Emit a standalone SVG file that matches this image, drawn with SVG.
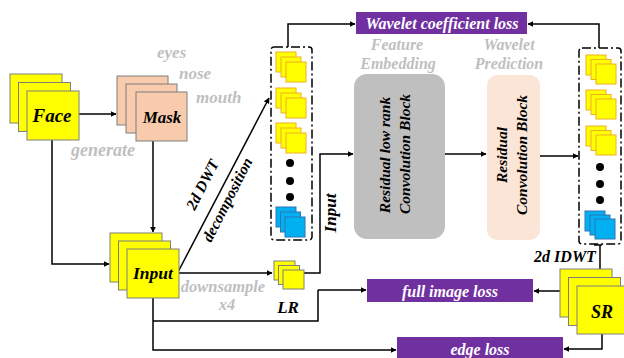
<svg xmlns="http://www.w3.org/2000/svg" width="624" height="358" viewBox="0 0 624 358">
<defs>
<marker id="ah" viewBox="0 0 10 10" refX="9" refY="5" markerWidth="6" markerHeight="6" markerUnits="userSpaceOnUse" orient="auto">
<path d="M0,0 L10,5 L0,10 z" fill="#000"/>
</marker>
</defs>
<style>
.t{font-family:"Liberation Serif","Times New Roman",serif;font-weight:bold;font-style:italic}
.blk{fill:#000}
.gry{fill:#BFBFBF}
.wht{fill:#fff}
.ylw{fill:#FFFF00;stroke:#7F7F7F;stroke-width:1}
.pch{fill:#F8CBAD;stroke:#7F7F7F;stroke-width:1}
.sy{fill:#FFFF00;stroke:#F0B020;stroke-width:1}
.sb{fill:#00B0F0;stroke:#2E75B6;stroke-width:1}
.ln{fill:none;stroke:#000;stroke-width:1.5}
.ar{fill:none;stroke:#000;stroke-width:1.5;marker-end:url(#ah)}
.dd{fill:none;stroke:#000;stroke-width:1.5;stroke-dasharray:9 3 2 3}
.pur{fill:#7030A0}
</style>

<g id="connectors">
<path class="ar" d="M78,114 H116"/>
<path class="ar" d="M52,140 V264 H109"/>
<path class="ar" d="M153,141 V232"/>
<path class="ar" d="M178,273 H272"/>
<path class="ar" d="M178,272 L269,98"/>
<path class="ar" d="M304,273 H320 V154 H353"/>
<path class="ar" d="M153,298 V350 H396"/>
<path class="ln" d="M153,321 H318 V290"/>
<path class="ar" d="M318,290 H366"/>
<path class="ar" d="M288,47 V24 H355"/>
<path class="ar" d="M599,48 V24 H528"/>
<path class="ar" d="M445,154 H486"/>
<path class="ar" d="M540,156 H578"/>
<path class="ln" d="M594,245 H602"/>
<path class="ar" d="M600,245 V284"/>
<path class="ar" d="M560,291 H534"/>
<path class="ar" d="M602,334 V349 H564"/>
</g>

<g id="face">
<rect class="ylw" x="10" y="74" width="52" height="49"/>
<rect class="ylw" x="18.5" y="82.5" width="52" height="49"/>
<rect class="ylw" x="27" y="91" width="52" height="49"/>
<text class="t blk" x="52" y="122" font-size="19" text-anchor="middle">Face</text>
</g>

<g id="mask">
<rect class="pch" x="117" y="76" width="51" height="49"/>
<rect class="pch" x="126" y="84" width="51" height="49"/>
<rect class="pch" x="136" y="92" width="51" height="49"/>
<text class="t blk" x="162" y="123" font-size="17" text-anchor="middle">Mask</text>
</g>

<g id="face-labels">
<text class="t gry" x="157" y="58" font-size="17">eyes</text>
<text class="t gry" x="179" y="79" font-size="17">nose</text>
<text class="t gry" x="196" y="103" font-size="17">mouth</text>
<text class="t gry" x="71" y="156" font-size="18">generate</text>
</g>

<g id="input">
<rect class="ylw" x="110" y="233" width="52" height="49"/>
<rect class="ylw" x="118.5" y="241" width="52" height="49"/>
<rect class="ylw" x="127" y="249" width="52" height="49"/>
<text class="t blk" x="153" y="279" font-size="17.5" text-anchor="middle">Input</text>
</g>

<g id="dwt-label">
<text class="t blk" font-size="15.5" text-anchor="middle" transform="translate(207,187) rotate(-63)">2d DWT</text>
<text class="t blk" font-size="15.5" text-anchor="middle" transform="translate(232,202) rotate(-63)">decomposition</text>
</g>

<g id="downsample-label">
<text class="t gry" x="223" y="292" font-size="16.5" text-anchor="middle">downsample</text>
<text class="t gry" x="227" y="310" font-size="16.5" text-anchor="middle">x4</text>
</g>

<g id="lr">
<rect class="ylw" x="274" y="261" width="21" height="19"/>
<rect class="ylw" x="278.5" y="265.5" width="21" height="19"/>
<rect class="ylw" x="283" y="270" width="21" height="19"/>
<text class="t blk" x="288" y="313" font-size="17" text-anchor="middle">LR</text>
</g>

<g id="input-label">
<text class="t blk" font-size="17" text-anchor="middle" transform="translate(336,213) rotate(-90)">Input</text>
</g>

<g id="wavelet-in">
<rect class="dd" x="271" y="47" width="41" height="193" rx="3"/>
<rect class="sy" x="276" y="52" width="20" height="20"/>
<rect class="sy" x="281" y="57" width="20" height="20"/>
<rect class="sy" x="286" y="62" width="20" height="20"/>
<rect class="sy" x="276" y="88" width="20" height="20"/>
<rect class="sy" x="281" y="93" width="20" height="20"/>
<rect class="sy" x="286" y="98" width="20" height="20"/>
<rect class="sy" x="276" y="123" width="20" height="20"/>
<rect class="sy" x="281" y="128" width="20" height="20"/>
<rect class="sy" x="286" y="133" width="20" height="20"/>
<circle cx="290" cy="163" r="4"/>
<circle cx="290" cy="181" r="4"/>
<circle cx="290" cy="197" r="4"/>
<rect class="sb" x="276" y="207" width="20" height="20"/>
<rect class="sb" x="280.5" y="212" width="20" height="20"/>
<rect class="sb" x="285" y="217" width="20" height="20"/>
</g>

<g id="feature-label">
<text class="t gry" x="397" y="50" font-size="16" text-anchor="middle">Feature</text>
<text class="t gry" x="398" y="69" font-size="16" text-anchor="middle">Embedding</text>
</g>

<g id="lowrank-block">
<rect x="354" y="74" width="91" height="165" rx="13" fill="#BFBFBF"/>
<text class="t blk" font-size="15.5" text-anchor="middle" transform="translate(390,155) rotate(-90)">Residual low rank</text>
<text class="t blk" font-size="15.5" text-anchor="middle" transform="translate(410,154) rotate(-90)">Convolution  Block</text>
</g>

<g id="prediction-label">
<text class="t gry" x="509" y="50" font-size="16" text-anchor="middle">Wavelet</text>
<text class="t gry" x="509" y="69" font-size="16" text-anchor="middle">Prediction</text>
</g>

<g id="residual-block">
<rect x="487" y="75" width="53" height="165" rx="10" fill="#FBE5D6"/>
<text class="t blk" font-size="15.5" text-anchor="middle" transform="translate(507,155) rotate(-90)">Residual</text>
<text class="t blk" font-size="15.5" text-anchor="middle" transform="translate(527,155) rotate(-90)">Convolution  Block</text>
</g>

<g id="wavelet-out">
<rect class="dd" x="579" y="48" width="42" height="196" rx="3"/>
<rect class="sy" x="586" y="55" width="20" height="20"/>
<rect class="sy" x="591" y="59.5" width="20" height="20"/>
<rect class="sy" x="596" y="64" width="20" height="20"/>
<rect class="sy" x="586" y="90" width="20" height="20"/>
<rect class="sy" x="591" y="94.5" width="20" height="20"/>
<rect class="sy" x="596" y="99" width="20" height="20"/>
<rect class="sy" x="586" y="126" width="20" height="20"/>
<rect class="sy" x="591" y="130.5" width="20" height="20"/>
<rect class="sy" x="596" y="135" width="20" height="20"/>
<circle cx="600" cy="167" r="4"/>
<circle cx="600" cy="184" r="4"/>
<circle cx="600" cy="200" r="4"/>
<rect class="sb" x="585" y="211" width="20" height="20"/>
<rect class="sb" x="590" y="215" width="20" height="20"/>
<rect class="sb" x="595" y="219" width="20" height="20"/>
</g>

<g id="idwt-label">
<text class="t blk" x="565" y="262" font-size="16" text-anchor="middle">2d IDWT</text>
</g>

<g id="sr">
<rect class="ylw" x="560" y="269" width="52" height="48"/>
<rect class="ylw" x="568.5" y="277.5" width="52" height="48"/>
<rect class="ylw" x="577" y="286" width="52" height="48"/>
<text class="t blk" x="602" y="318" font-size="18" text-anchor="middle">SR</text>
</g>

<g id="wavelet-loss">
<rect class="pur" x="356" y="12" width="171" height="22"/>
<text class="t wht" x="442" y="28.5" font-size="16" text-anchor="middle">Wavelet coefficient loss</text>
</g>

<g id="full-image-loss">
<rect class="pur" x="367" y="279" width="166" height="23"/>
<text class="t wht" x="450" y="296.5" font-size="16" text-anchor="middle">full image loss</text>
</g>

<g id="edge-loss">
<rect class="pur" x="397" y="337" width="166" height="23"/>
<text class="t wht" x="480" y="354.5" font-size="16" text-anchor="middle">edge loss</text>
</g>
</svg>
